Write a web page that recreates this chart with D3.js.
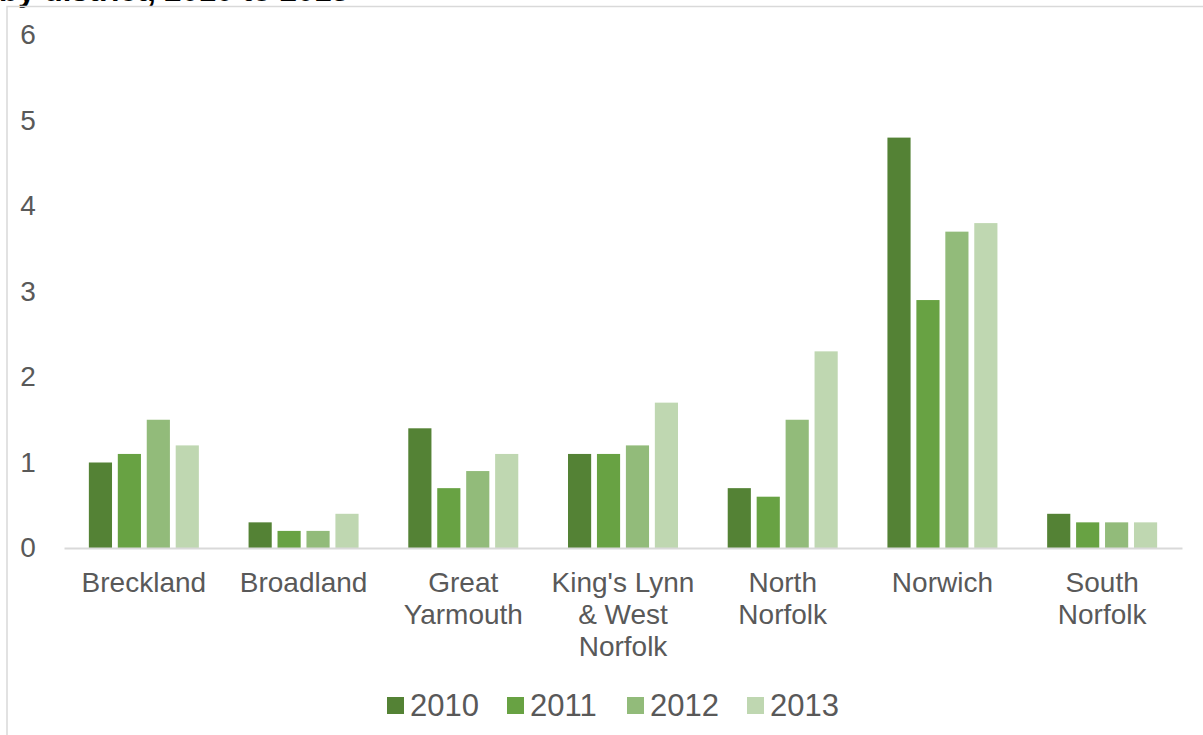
<!DOCTYPE html>
<html>
<head>
<meta charset="utf-8">
<script src="https://cdn.jsdelivr.net/npm/d3@7"></script>
<style>
  html, body { margin: 0; padding: 0; background: #fff; }
  svg { display: block; font-family: "Liberation Sans", Arial, sans-serif; }
</style>
</head>
<body>
<svg id="chart" width="1203" height="735"></svg>
<script>
// Districts (label lines) and yearly values
const districts = [
  ["Breckland"],
  ["Broadland"],
  ["Great", "Yarmouth"],
  ["King's Lynn", "& West", "Norfolk"],
  ["North", "Norfolk"],
  ["Norwich"],
  ["South", "Norfolk"]
];
const years = ["2010", "2011", "2012", "2013"];
const values2010 = [1.0, 0.3, 1.4, 1.1, 0.7, 4.8, 0.4];
const values2011 = [1.1, 0.2, 0.7, 1.1, 0.6, 2.9, 0.3];
const values2012 = [1.5, 0.2, 0.9, 1.2, 1.5, 3.7, 0.3];
const values2013 = [1.2, 0.4, 1.1, 1.7, 2.3, 3.8, 0.3];
const yTicks = [0, 1, 2, 3, 4, 5, 6];
const colors = ["#548235", "#68a243", "#92bb7a", "#bfd7b1"];

const series = [values2010, values2011, values2012, values2013];
const names = districts.map(d => d.join(" "));

const svg = d3.select("#chart");
const textColor = "#595959";

// Title line sits above the chart frame, running off the top edge
svg.append("text")
  .attr("x", -1).attr("y", 0.5)
  .attr("font-size", 31).attr("font-weight", "bold").attr("fill", "#000")
  .text("by district, 2010 to 2013");

// Chart frame
svg.append("path")
  .attr("d", "M7,740 V6.5 H1210")
  .attr("fill", "none").attr("stroke", "#d9d9d9").attr("stroke-width", 1.5);

const plotLeft = 64, plotRight = 1182, plotTop = 35, plotBottom = 548;

const x0 = d3.scaleBand().domain(names).range([plotLeft, plotRight]).paddingInner(0).paddingOuter(0);
const x1 = d3.scaleBand().domain(years).range([0, 110]).paddingInner(0.2).paddingOuter(0);
const groupOffset = (x0.bandwidth() - 110) / 2;
const y = d3.scaleLinear().domain([0, 6]).range([plotBottom, plotTop]);

// Y axis labels
const yAxis = svg.append("g").attr("transform", `translate(${plotLeft - 20},0)`)
  .call(d3.axisLeft(y).tickValues(yTicks).tickSize(0).tickPadding(0).tickFormat(d3.format("d")));
yAxis.select(".domain").remove();
yAxis.selectAll("text")
  .attr("x", -16).attr("text-anchor", "middle")
  .attr("font-size", 28).attr("fill", textColor)
  .attr("font-family", "Liberation Sans, Arial, sans-serif");

// Bars
const groups = svg.append("g").selectAll("g")
  .data(names).join("g")
  .attr("transform", d => `translate(${x0(d) + groupOffset},0)`);

groups.selectAll("rect")
  .data((d, i) => years.map((yr, k) => ({ yr, v: series[k][i], k })))
  .join("rect")
  .attr("x", d => x1(d.yr))
  .attr("width", x1.bandwidth())
  .attr("y", d => y(d.v))
  .attr("height", d => y(0) - y(d.v))
  .attr("fill", d => colors[d.k]);

// Category axis
const xAxis = svg.append("g").attr("transform", `translate(0,${plotBottom})`)
  .call(d3.axisBottom(x0).tickSize(0).tickFormat(""));
xAxis.select(".domain").attr("stroke", "#d9d9d9").attr("stroke-width", 2);

xAxis.selectAll(".tick").each(function(d, i) {
  const t = d3.select(this).append("text")
    .attr("fill", textColor).attr("font-size", 28)
    .attr("text-anchor", "middle")
    .attr("font-family", "Liberation Sans, Arial, sans-serif");
  districts[i].forEach((line, j) => {
    t.append("tspan").attr("x", 0).attr("y", 44 + j * 32).text(line);
  });
});

// Legend
const legend = svg.append("g").attr("transform", "translate(387,697)");
const item = legend.selectAll("g").data(years).join("g")
  .attr("transform", (d, i) => `translate(${i * 120},0)`);
item.append("rect").attr("width", 17).attr("height", 17).attr("fill", (d, i) => colors[i]);
item.append("text").attr("x", 23).attr("y", 19)
  .attr("font-size", 31).attr("fill", textColor).text(d => d);
</script>
</body>
</html>
